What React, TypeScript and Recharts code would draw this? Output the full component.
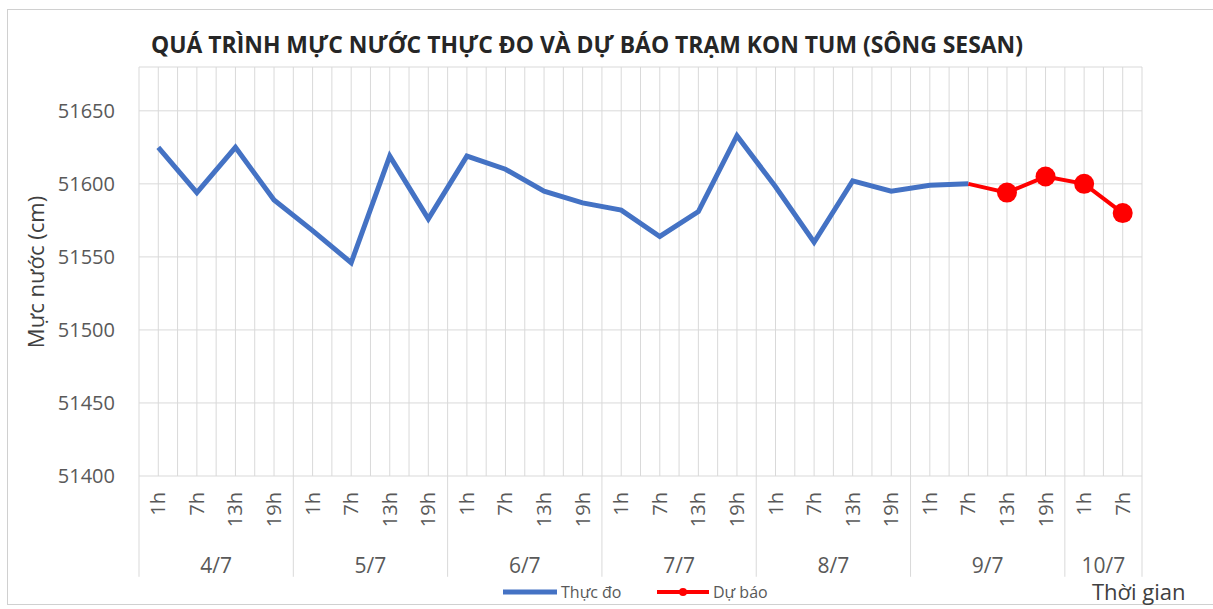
import { LineChart, Line, XAxis, YAxis, CartesianGrid, ReferenceLine } from 'recharts';

const days = ['4/7', '5/7', '6/7', '7/7', '8/7', '9/7', '10/7'];
const hoursPerDay = [4, 4, 4, 4, 4, 4, 2];
const hourLabels = [
  '1h', '7h', '13h', '19h',
  '1h', '7h', '13h', '19h',
  '1h', '7h', '13h', '19h',
  '1h', '7h', '13h', '19h',
  '1h', '7h', '13h', '19h',
  '1h', '7h', '13h', '19h',
  '1h', '7h',
];
const thucDo = [
  51625, 51594, 51625, 51589,
  51568, 51546, 51619, 51576,
  51619, 51610, 51595, 51587,
  51582, 51564, 51581, 51633,
  51598, 51560, 51602, 51595,
  51599, 51600, null, null,
  null, null,
];
const duBao = [
  null, null, null, null,
  null, null, null, null,
  null, null, null, null,
  null, null, null, null,
  null, null, null, null,
  null, 51600, 51594, 51605,
  51600, 51580,
];
const yTicks = [51400, 51450, 51500, 51550, 51600, 51650];

const data = hourLabels.map((h, i) => ({ i, hour: h, thucDo: thucDo[i], duBao: duBao[i] }));

// day groups: centres for the labels, edges for the separators
const dayStarts: number[] = [];
hoursPerDay.reduce((acc, n) => {
  dayStarts.push(acc);
  return acc + n;
}, 0);
const dayCenters = dayStarts.map((s, k) => s + (hoursPerDay[k] - 1) / 2);
const dayEdges = [...dayStarts.map((s) => s - 0.5), hourLabels.length - 0.5];
const hourTicks = hourLabels.map((_, i) => i);
const gridTicks = Array.from({ length: hourLabels.length * 2 + 1 }, (_, k) => -0.5 + k * 0.5);
const xDomain = [-0.5, hourLabels.length - 0.5];

const FONT = '"Open Sans", "Noto Sans", sans-serif';
const firstForecast = duBao.findIndex((v) => v != null);

const scaleOf = (axis: any) => (v: number) => {
  const s = axis?.scale;
  if (typeof s === 'function') return s(v);
  if (s && typeof s.map === 'function') return s.map(v);
  return NaN;
};

const HourTick = ({ x, y, payload }: any) => (
  <text
    transform={`translate(${x},${y + 8}) rotate(-90)`}
    textAnchor="end"
    dy="0.35em"
    fontSize={20}
    fontFamily={FONT}
    fill="#595959"
  >
    {hourLabels[payload.value]}
  </text>
);

const DayTick = ({ x, y, payload }: any) => {
  const k = dayCenters.indexOf(payload.value);
  return (
    <text x={x} y={y + 26} textAnchor="middle" dominantBaseline="central" fontSize={21} fontFamily={FONT} fill="#595959">
      {days[k]}
    </text>
  );
};

const RedDot = (props: any) => {
  const { cx, cy, index, value } = props;
  if (value == null || index === firstForecast) return <g key={`d${index}`} />;
  return <circle key={`d${index}`} cx={cx} cy={cy} r={10} fill="#FF0000" />;
};

export default function App() {
  return (
    <div style={{ position: 'absolute', left: 0, top: 0, width: 1213, height: 609, background: '#fff', overflow: 'hidden' }}>
      <div style={{ position: 'absolute', left: 7, top: 9, width: 1230, height: 596, border: '1px solid #d0d0d0', boxSizing: 'border-box' }} />
      <LineChart width={1213} height={609} data={data} margin={{ top: 67, right: 71, left: 59, bottom: 33 }}>
        <CartesianGrid
          xAxisId="a-hour"
          stroke="#d9d9d9"
          strokeWidth={1}
          verticalCoordinatesGenerator={({ xAxis }: any) => gridTicks.map(scaleOf(xAxis)).filter((v) => !Number.isNaN(v))}
        />
        <XAxis
          xAxisId="a-hour"
          dataKey="i"
          type="number"
          domain={xDomain}
          ticks={hourTicks}
          interval={0}
          height={55}
          tickLine={false}
          axisLine={false}
          tick={<HourTick />}
        />
        <XAxis
          xAxisId="b-day"
          dataKey="i"
          type="number"
          domain={xDomain}
          ticks={dayCenters}
          interval={0}
          height={45}
          tickLine={false}
          axisLine={false}
          tick={<DayTick />}
        />
        <YAxis
          domain={[51400, 51680]}
          ticks={yTicks}
          width={80}
          tickLine={false}
          axisLine={false}
          tickMargin={18}
          tick={{ fontSize: 20, fontFamily: FONT, fill: '#595959' }}
        />
        {dayEdges.map((e) => (
          <ReferenceLine
            key={e}
            xAxisId="a-hour"
            ifOverflow="visible"
            segment={[{ x: e, y: 51400 }, { x: e, y: 51331 }]}
            stroke="#d9d9d9"
            strokeWidth={1}
          />
        ))}
        <Line xAxisId="a-hour" dataKey="thucDo" stroke="#4472C4" strokeWidth={5} dot={false} isAnimationActive={false} />
        <Line xAxisId="a-hour" dataKey="duBao" stroke="#FF0000" strokeWidth={4} dot={<RedDot />} isAnimationActive={false} />
      </LineChart>
      <svg width={1213} height={609} style={{ position: 'absolute', left: 0, top: 0, pointerEvents: 'none' }}>
        <text x={151} y={53} fontSize={24} fontWeight={700} fontFamily={FONT} fill="#262626" textLength={872} lengthAdjust="spacingAndGlyphs">
          QUÁ TRÌNH MỰC NƯỚC THỰC ĐO VÀ DỰ BÁO TRẠM KON TUM (SÔNG SESAN)
        </text>
        <text transform="translate(35,272) rotate(-90)" textAnchor="middle" dominantBaseline="central" fontSize={22} fontFamily={FONT} fill="#404040">
          Mực nước (cm)
        </text>
        <text x={1092} y={600} fontSize={22} fontFamily={FONT} fill="#404040">
          Thời gian
        </text>
        <line x1={503} y1={592} x2={557} y2={592} stroke="#4472C4" strokeWidth={5} />
        <text x={561} y={598} fontSize={16} fontFamily={FONT} fill="#595959">Thực đo</text>
        <line x1={657} y1={592} x2={709} y2={592} stroke="#FF0000" strokeWidth={4} />
        <circle cx={683} cy={592} r={4} fill="#FF0000" />
        <text x={713} y={598} fontSize={16} fontFamily={FONT} fill="#595959">Dự báo</text>
      </svg>
    </div>
  );
}
